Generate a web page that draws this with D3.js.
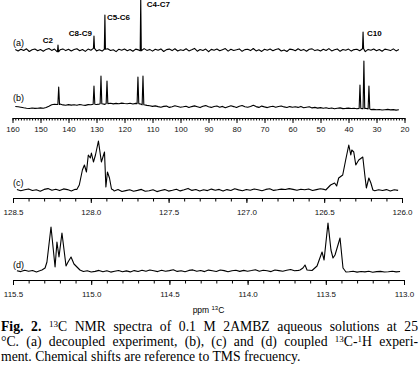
<!DOCTYPE html>
<html>
<head>
<meta charset="utf-8">
<script src="https://cdn.jsdelivr.net/npm/d3@7/dist/d3.min.js"></script>
<style>
body { margin: 0; background: #fff; }
svg { display: block; }
</style>
</head>
<body>
<svg></svg>
<script>
// ---- data ----
// baseline noise for (a) and (b): one value per ppm, 159 -> 22
const gridAB = {start: 159, step: 1}
const noiseA = [
  0.5,-1,0.8,-0.5,1.2,-1.5,0.3,1,-0.8,0.4,
  -1.2,0.6,1.5,-0.4,0.9,-1.8,0.2,1.1,-0.6,0.8,
  -1,0.4,1.3,-0.7,0.5,-1.4,0.9,-0.3,1.6,-0.9,
  0.3,-1.1,0.7,1.2,-0.5,0.2,-1.6,0.8,-0.2,1,
  -0.7,0.5,-1.3,0.9,0.1,-0.8,1.4,-0.4,0.6,-1.1,
  0.8,-0.3,1.1,-1.5,0.4,0.9,-0.6,1.3,-1,0.2,
  -0.5,1.2,-0.9,0.3,1.6,-1.2,0.5,-0.4,0.9,-1.7,
  0.6,-0.2,1,-0.8,0.3,1.4,-1.1,0.7,-0.5,0.2,
  1.1,-1.3,0.4,0.8,-0.6,1.5,-0.9,0.2,-1.4,0.7,
  -0.3,1,-0.7,0.5,1.3,-1,0.1,-1.5,0.9,0.4,
  -0.8,1.2,-0.4,0.6,-1.2,0.8,1.1,-0.6,0.3,-1,
  0.7,-0.5,1.4,-0.9,0.2,1,-1.3,0.5,-0.2,0.9,
  -1.1,0.4,0.8,-0.7,1.2,-1.6,0.6,-0.3,1,-0.8,
  0.5,-1.2,0.9,0.3,-0.6,1.1,-0.9,0.4
]
const noiseB = [
  0.5,0.2,-0.3,-0.8,-1.2,-1.5,-1,-1.4,-1.2,-0.9,
  -1.3,-0.5,0.8,2.2,2.8,2.5,3,2.1,1.8,2.4,
  1.9,2.3,1.7,2.5,2,1.6,2.4,2.2,2.8,2.5,
  2.9,3.2,2.6,3.4,3.8,3.1,3.6,3.3,3.9,3.5,
  3.2,3.7,3,3.6,3.4,2.8,2.2,1.6,1.2,0.6,
  1.1,0.4,-0.2,0.6,0.9,-0.4,0.3,1.2,0.5,-0.3,
  0.2,0.8,-0.5,0.4,1.1,0.3,-0.6,0.7,1.4,0.2,
  -0.4,0.5,1,-0.2,0.6,-0.8,0.3,1.2,0.4,-0.5,
  0.8,1.5,0.2,-0.3,0.6,1.8,0.4,-0.4,0.9,0.1,
  -0.6,0.3,0.8,-0.2,0.5,1,0.1,-0.5,0.4,-0.3,
  0.2,-0.4,0.6,-0.7,-0.2,0.3,-0.9,-0.4,-1.1,-0.6,
  -1.3,-0.8,-1.5,-1,-1.7,-1.2,-0.9,-1.6,-1.4,-1.1,
  -1.5,-1.2,-1.8,-1.4,-1.6,-1.3,-1.9,-2.6,-2.4,-2.8,
  -2.5,-3,-2.7,-2.4,-2.9,-2.6,-3.1,-2.8
]
// decoupled singlets (a) and coupled lines (b): ppm, height
const peaksA = [
  {label: 'C2', ppm: 143.75, h: 5},
  {label: 'C8-C9', ppm: 130.9, h: 14},
  {label: 'C5-C6', ppm: 127.0, h: 35},
  {label: 'C4-C7', ppm: 114.2, h: 51},
  {label: 'C10', ppm: 34.8, h: 18}
]
const peaksB = [
  {ppm: 143.5, h: 20}, {ppm: 130.9, h: 21}, {ppm: 128.4, h: 31},
  {ppm: 126.25, h: 26}, {ppm: 115.2, h: 30}, {ppm: 113.4, h: 31},
  {ppm: 35.9, h: 22}, {ppm: 34.5, h: 46}, {ppm: 32.7, h: 21}
]

// (c) 128.5-126.0 ppm and (d) 115.5-113.0 ppm, baseline noise every 0.025 ppm
const gridC = {start: 128.475, step: 0.025}
const noiseC = [
  0.5,-0.8,0.3,1,-0.5,0.2,-1.2,0.6,1.4,-0.3,
  0.8,-0.6,1.1,0.4,-0.9,0.7,1.5,0,0,0,
  0,0,0,0,0,-1,0.4,-1.5,-0.6,0.3,
  -1.2,-0.4,0.6,-1.3,-0.8,0.2,-1.6,-0.5,0.4,-1.1,
  -0.3,0.8,-0.9,0.2,1.6,-0.4,0.5,-1,0.3,-0.6,
  0.9,-0.2,0.6,-1.1,0.4,-0.5,1.2,0.1,-0.8,0.5,
  -0.3,1,0.2,-0.7,0.6,1.3,-0.4,0.2,0.9,0.5,
  1.4,0.6,-0.3,0.8,0.2,1,-0.5,0.4,1.2,0.6,
  0,0,0,0,0,0,0,0,0,0,
  0,0,-0.8,0.2,-0.5,0.4,-1,0.3,-0.4
]
const multC = [
  [[128.09, 0.5], [128.074, 5], [128.054, 20], [128.041, 25], [128.028, 18], [128.016, 35],
   [128.003, 32], [127.996, 37], [127.983, 28], [127.970, 35], [127.951, 49], [127.932, 28],
   [127.912, 38], [127.903, 3], [127.893, 18], [127.880, 12], [127.867, 1], [127.855, 0]],
  [[126.49, 0], [126.459, 5], [126.433, 7], [126.420, 4], [126.407, 12], [126.381, 15],
   [126.362, 30], [126.342, 45], [126.329, 35], [126.323, 40], [126.310, 38], [126.297, 25],
   [126.278, 30], [126.252, 33], [126.239, 15], [126.229, 2], [126.213, 12], [126.200, 7],
   [126.187, 0]]
]
const gridD = {start: 115.475, step: 0.025}
const noiseD = [
  0.3,-0.6,0.8,-0.2,0.5,-0.9,0.4,
  0,0,0,0,0,0,0,0,0,0,
  -0.5,0.3,-1,-0.4,0.6,-0.8,0.2,-1.1,-0.3,0.5,-0.7,0.1,-0.9,
  0.4,-0.5,0.8,-0.3,1,0.2,-0.6,0.7,-0.2,0.4,
  1.2,-0.4,0.3,-0.8,0.6,1.1,-0.3,0.5,-0.6,0.9,
  0.2,-0.5,1,0.4,-0.7,0.3,0.8,-0.4,0.6,-0.2,
  0.5,1.3,-0.3,0.7,0.2,-0.6,1,0.4,-0.2,0.8,1.5,0.3,0.6,
  0,0,0,0,0,0,0,0,0,0,0,0,
  -0.8,-0.3,-1.1,-0.5,-0.9,-0.2,-1.2,-0.6,-0.4,-1,-0.7,-0.3,-0.9,-0.5
]
const multD = [
  [[115.315, 1], [115.295, 3], [115.283, 9], [115.257, 44], [115.231, 4], [115.219, 29],
   [115.206, 14], [115.187, 38], [115.161, 5], [115.148, 9], [115.129, 14], [115.110, 7],
   [115.091, 4], [115.072, 1]],
  [[113.665, 1], [113.646, 3], [113.633, 6], [113.620, 1], [113.588, 0.5], [113.556, 5],
   [113.524, 19], [113.511, 11], [113.486, 48], [113.467, 21], [113.454, 13], [113.441, 16],
   [113.409, 33], [113.390, 3], [113.371, -1]]
]

// tick labels
const ticksTop = [160, 150, 140, 130, 120, 110, 100, 90, 80, 70, 60, 50, 40, 30, 20]
const ticksC = [128.5, 128.0, 127.5, 127.0, 126.5, 126.0]
const ticksD = [115.5, 115.0, 114.5, 114.0, 113.5, 113.0]
const traceNames = ['(a)', '(b)', '(c)', '(d)']

// ---- helpers ----
function buildTrace(grid, noise, peaks, mults, w) {
    let pts = noise.map((v, i) => [grid.start - i * grid.step, v])
    mults.forEach(m => {
        const hi = m[0][0], lo = m[m.length - 1][0]
        pts = pts.filter(p => p[0] > hi || p[0] < lo).concat(m)
    })
    peaks.forEach(p => {
        const near = pts.reduce((a, b) => Math.abs(b[0] - p.ppm) < Math.abs(a[0] - p.ppm) ? b : a)
        const base = near[1]
        pts = pts.filter(q => Math.abs(q[0] - p.ppm) > w)
        pts.push([p.ppm + w, base], [p.ppm, p.h], [p.ppm - w, base])
    })
    return pts.sort((a, b) => b[0] - a[0])
}

const W = 419, H = 376
const sans = 'Liberation Sans, Arial, sans-serif'
const svg = d3.select('svg').attr('width', W).attr('height', H)
svg.append('rect').attr('width', W).attr('height', H).attr('fill', '#fff')

const xTop = d3.scaleLinear().domain([160, 20]).range([12.5, 404.5])
const xC = d3.scaleLinear().domain([128.5, 126.0]).range([13, 402])
const xD = d3.scaleLinear().domain([115.5, 113.0]).range([13, 404])

const panels = [
    {name: traceNames[0], x: xTop, y: d3.scaleLinear().domain([0, 50]).range([50, 0]),
     data: buildTrace(gridAB, noiseA, peaksA, [], 0.2), labelY: 46},
    {name: traceNames[1], x: xTop, y: d3.scaleLinear().domain([0, 50]).range([107, 57]),
     data: buildTrace(gridAB, noiseB, peaksB, [], 0.3), labelY: 101},
    {name: traceNames[2], x: xC, y: d3.scaleLinear().domain([0, 50]).range([190, 140]),
     data: buildTrace(gridC, noiseC, [], multC, 0), labelY: 186},
    {name: traceNames[3], x: xD, y: d3.scaleLinear().domain([0, 50]).range([271, 221]),
     data: buildTrace(gridD, noiseD, [], multD, 0), labelY: 268}
]

panels.forEach(p => {
    svg.append('path')
        .datum(p.data)
        .attr('fill', 'none')
        .attr('stroke', '#000')
        .attr('stroke-width', 1.1)
        .attr('stroke-linejoin', 'round')
        .attr('d', d3.line().x(d => p.x(d[0])).y(d => p.y(d[1])))
    svg.append('text')
        .attr('x', 13)
        .attr('y', p.labelY)
        .style('font-family', sans)
        .style('font-size', '9px')
        .text(p.name)
})

// peak assignments on (a)
const labelPos = {
    'C2': {anchor: 'end', dx: -5, dy: -2},
    'C8-C9': {anchor: 'end', dx: -2, dy: 0},
    'C5-C6': {anchor: 'start', dx: 2, dy: 5},
    'C4-C7': {anchor: 'start', dx: 6, dy: 7.5},
    'C10': {anchor: 'start', dx: 4, dy: 4}
}
svg.append('g')
    .selectAll('text')
    .data(peaksA)
    .join('text')
        .attr('x', d => xTop(d.ppm) + labelPos[d.label].dx)
        .attr('y', d => panels[0].y(d.h) + labelPos[d.label].dy)
        .attr('text-anchor', d => labelPos[d.label].anchor)
        .style('font-family', sans)
        .style('font-size', '8px')
        .style('font-weight', 700)
        .text(d => d.label)

// axes
function drawAxis(x, yPos, labels, minorStep, fmt, pad) {
    const [d0, d1] = x.domain()
    const lo = Math.min(d0, d1), hi = Math.max(d0, d1)
    const minor = d3.range(Math.round(lo / minorStep), Math.round(hi / minorStep) + 1).map(k => k * minorStep)
    svg.append('g')
        .attr('transform', `translate(0,${yPos})`)
        .call(d3.axisBottom(x).tickValues(minor).tickSize(minorStep === 1 ? 2.5 : 3.5).tickSizeOuter(0).tickFormat(''))
    const g = svg.append('g')
        .attr('transform', `translate(0,${yPos})`)
        .call(d3.axisBottom(x).tickValues(labels).tickSize(5).tickSizeOuter(0).tickPadding(pad).tickFormat(fmt))
    g.select('.domain').remove()
    g.selectAll('text')
        .style('font-family', sans)
        .style('font-size', '8px')
        .attr('fill', '#111')
    svg.selectAll('.domain').attr('stroke', '#000')
}
drawAxis(xTop, 118, ticksTop, 1, d3.format('d'), 3.5)
drawAxis(xC, 198, ticksC, 0.1, d3.format('.1f'), 6.5)
drawAxis(xD, 280, ticksD, 0.1, d3.format('.1f'), 6.5)

// x title
const xt = svg.append('text')
    .attr('x', xD(114.25))
    .attr('y', 313)
    .attr('text-anchor', 'middle')
    .style('font-family', sans)
    .style('font-size', '8.5px')
xt.append('tspan').text('ppm ')
xt.append('tspan').attr('dy', -3.5).style('font-size', '6px').text('13')
xt.append('tspan').attr('dy', 3.5).text('C')

// caption
const capLines = [
    [{t: 'Fig. 2.', b: true}, {t: ' '}, {t: '13', s: true}, {t: 'C NMR spectra of 0.1 M 2AMBZ aqueous solutions at 25'}],
    [{t: '°C. (a) decoupled experiment, (b), (c) and (d) coupled '}, {t: '13', s: true}, {t: 'C-'}, {t: '1', s: true}, {t: 'H experi-'}],
    [{t: 'ment. Chemical shifts are reference to TMS frecuency.'}]
]
const capY = [331, 346, 361]
capLines.forEach((line, i) => {
    const t = svg.append('text')
        .attr('x', 1)
        .attr('y', capY[i])
        .style('font-family', 'Liberation Serif, Times New Roman, serif')
        .style('font-size', '13.7px')
    let up = false
    line.forEach(seg => {
        const ts = t.append('tspan').text(seg.t)
        if (seg.b) ts.style('font-weight', 700)
        if (seg.s) { ts.style('font-size', '9px').attr('dy', -4.5); up = true }
        else if (up) { ts.attr('dy', 4.5); up = false }
    })
    if (i < 2) {
        const natural = t.node().getComputedTextLength()
        const spaces = line.map(s => s.t).join('').split(' ').length - 1
        t.style('word-spacing', ((417 - natural) / spaces) + 'px')
    }
})
</script>
</body>
</html>
